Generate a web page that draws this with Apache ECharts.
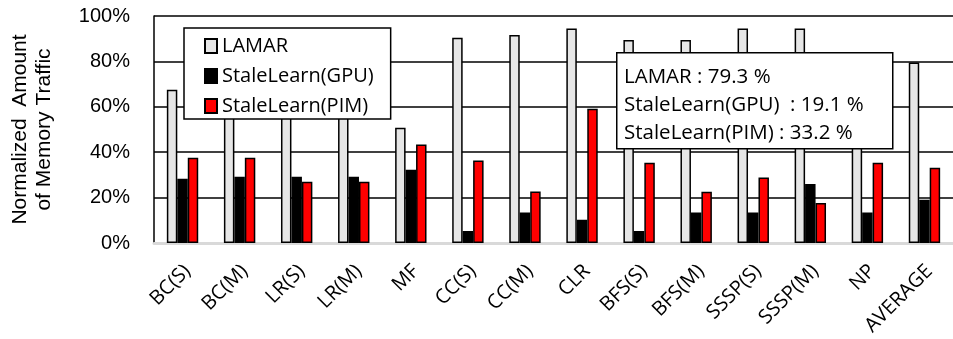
<!DOCTYPE html>
<html>
<head>
<meta charset="utf-8">
<script src="https://cdn.jsdelivr.net/npm/echarts@6/dist/echarts.min.js"></script>
<style>
html,body{margin:0;padding:0;background:#fff;}
#chart{width:953px;height:339px;}
</style>
</head>
<body>
<div id="chart"></div>
<script>
var categories = ['BC(S)','BC(M)','LR(S)','LR(M)','MF','CC(S)','CC(M)','CLR','BFS(S)','BFS(M)','SSSP(S)','SSSP(M)','NP','AVERAGE'];
var lamar = [67.5, 67, 66, 66, 50.8, 90.4, 91.6, 94.5, 89.4, 89.4, 94.5, 94.5, 65, 79.5];
var staleGPU = [28.3, 29.2, 29.2, 29.2, 32.3, 5.3, 13.4, 10.2, 5.3, 13.4, 13.4, 26.0, 13.4, 19.1];
var stalePIM = [37.6, 37.6, 27, 27, 43.4, 36.3, 22.7, 59.1, 35.3, 22.6, 28.9, 17.6, 35.3, 33.2];
var seriesNames = ['LAMAR', 'StaleLearn(GPU)', 'StaleLearn(PIM)'];
var summaryLabels = ['LAMAR : ', 'StaleLearn(GPU)  : ', 'StaleLearn(PIM) : '];
var summaryValues = [79.3, 19.1, 33.2];
var yTicks = [0, 20, 40, 60, 80, 100];

var FONT2 = 'Open Sans';
var chart = echarts.init(document.getElementById('chart'), null, {renderer: 'canvas'});
var summaryText = summaryLabels.map(function (l, i) { return l + summaryValues[i].toFixed(1) + ' %'; }).join('\n');

function barSeries(name, data, color) {
  return {
    name: name, type: 'bar', data: data,
    barGap: '0%', barCategoryGap: '45%',
    itemStyle: {color: color, borderColor: '#000', borderWidth: 1.5},
    emphasis: {disabled: true}
  };
}

chart.setOption({
  animation: false,
  grid: {left: 154, top: 16, bottom: 96, right: -11, containLabel: false},
  legend: {
    orient: 'vertical', left: 184, top: 28,
    padding: [8, 17, 3, 20], itemGap: 10,
    itemWidth: 12, itemHeight: 14, icon: 'rect',
    backgroundColor: '#fff', borderColor: '#000', borderWidth: 1.5,
    textStyle: {fontFamily: FONT2, fontSize: 20, color: '#000', lineHeight: 20},
    data: seriesNames, selectedMode: false
  },
  xAxis: {
    type: 'category', data: categories,
    axisTick: {show: false},
    axisLine: {lineStyle: {color: '#d9d9d9', width: 3}},
    axisLabel: {interval: 0, rotate: 45, margin: 30, padding: [0, -7, 0, 0], fontFamily: FONT2, fontSize: 20, color: '#000'},
    splitLine: {show: false}
  },
  yAxis: {
    type: 'value', min: yTicks[0], max: yTicks[yTicks.length - 1], interval: 20,
    name: 'Normalized  Amount\nof Memory Traffic',
    nameLocation: 'middle', nameGap: 98, nameRotate: 90,
    nameTextStyle: {fontFamily: 'Liberation Sans', fontSize: 21, color: '#000', lineHeight: 24, align: 'center'},
    axisLine: {show: true, lineStyle: {color: '#000', width: 1.5}},
    axisTick: {show: false},
    axisLabel: {formatter: '{value}%', margin: 24, fontFamily: 'Liberation Sans', fontSize: 20, color: '#000'},
    splitLine: {show: true, lineStyle: {color: ['#d9d9d9', '#000', '#000', '#000', '#000', '#000'], width: 1.5}}
  },
  series: [
    barSeries(seriesNames[0], lamar, '#e6e6e6'),
    barSeries(seriesNames[1], staleGPU, '#000000'),
    barSeries(seriesNames[2], stalePIM, '#ff0000')
  ],
  graphic: [
    {type: 'rect', left: 616, top: 52, z: 100,
     shape: {width: 276, height: 96},
     style: {fill: '#fff', stroke: '#000', lineWidth: 1.5}},
    {type: 'text', left: 624, top: 63, z: 101,
     style: {text: summaryText, font: '20.5px "Open Sans"', lineHeight: 28, fill: '#000'}}
  ]
});
</script>
</body>
</html>
